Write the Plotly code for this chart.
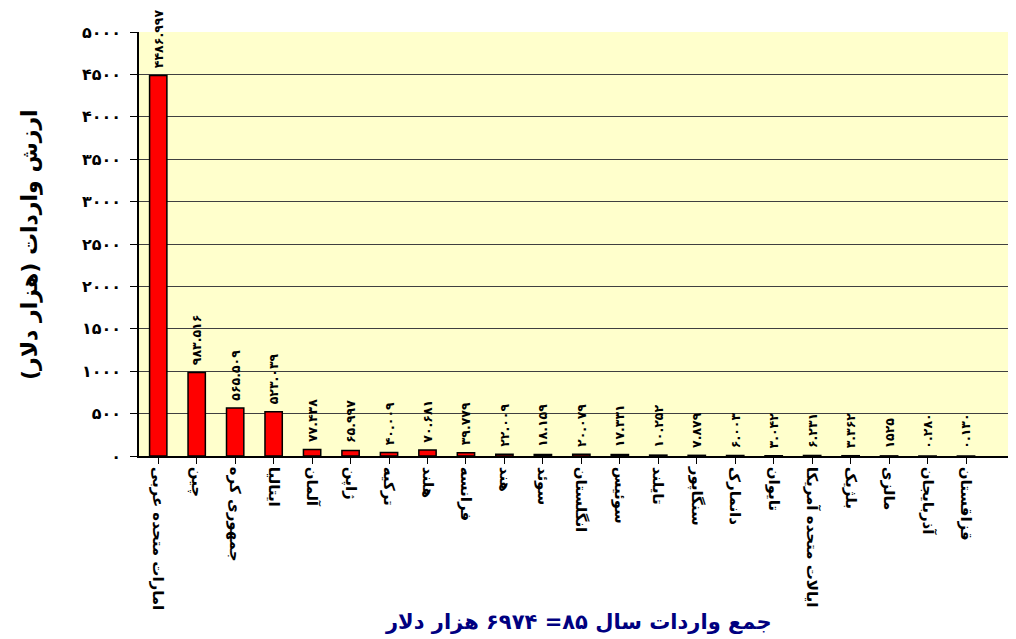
import plotly.graph_objects as go

countries = ["امارات متحده عربی", "چین", "جمهوری کره", "ایتالیا", "آلمان", "ژاپن", "ترکیه",
             "هلند", "فرانسه", "هند", "سوئد", "انگلستان", "سوئیس", "تایلند", "سنگاپور",
             "دانمارک", "تایوان", "ایالات متحده آمریکا", "بلژیک", "مالزی", "آذربایجان", "قزاقستان"]
values = [4486.997, 983.516, 565.509, 523.039, 77.438, 65.997, 40.009, 70.681, 39.779, 22.009,
          18.159, 20.079, 17.331, 10.252, 7.879, 6.003, 3.042, 6.231, 3.362, 1.525, 0.280, 0.130]
value_labels = ["۴۴۸۶.۹۹۷", "۹۸۳.۵۱۶", "۵۶۵.۵۰۹", "۵۲۳.۰۳۹", "۷۷.۴۳۸", "۶۵.۹۹۷", "۴۰.۰۰۹",
                "۷۰.۶۸۱", "۳۹.۷۷۹", "۲۲.۰۰۹", "۱۸.۱۵۹", "۲۰.۰۷۹", "۱۷.۳۳۱", "۱۰.۲۵۲", "۷.۸۷۹",
                "۶.۰۰۳", "۳.۰۴۲", "۶.۲۳۱", "۳.۳۶۲", "۱۵۲۵", "۰.۲۸۰", "۰.۱۳۰"]
y_ticks = [0, 500, 1000, 1500, 2000, 2500, 3000, 3500, 4000, 4500, 5000]
y_tick_labels = ["۰", "۵۰۰", "۱۰۰۰", "۱۵۰۰", "۲۰۰۰", "۲۵۰۰", "۳۰۰۰", "۳۵۰۰", "۴۰۰۰", "۴۵۰۰", "۵۰۰۰"]
y_title = "ارزش واردات (هزار دلار)"
x_title = "جمع واردات سال ۸۵= ۶۹۷۴ هزار دلار"

FONT = "DejaVu Sans"
W, H = 1016, 639
ML, MR, MT, MB = 131, 8, 24, 191

fig = go.Figure(go.Bar(
    x=list(range(len(countries))), y=values, width=0.45,
    marker=dict(color="#FF0000", line=dict(color="black", width=1.5)),
    text=["\u00a0" + s for s in value_labels], textposition="outside", textangle=-90,
    constraintext="none",
    textfont=dict(family=FONT, size=12.5, color="black", weight="bold"),
    cliponaxis=False,
))

plot_w = W - ML - MR
plot_h = H - MT - MB

def px_to_paper_x(px):
    return (px - 8 - ML) / plot_w

def px_to_paper_y(py):
    return (H - MB - (py - 8)) / plot_h

fig.update_layout(
    width=W, height=H,
    margin=dict(l=ML, r=MR, t=MT, b=MB, autoexpand=False),
    paper_bgcolor="white", plot_bgcolor="#FFFFCC",
    showlegend=False,
    font=dict(family=FONT, color="black"),
    xaxis=dict(
        tickmode="array", tickvals=list(range(len(countries))), ticktext=countries,
        tickangle=90, range=[-0.5, 22.3], showgrid=False, ticks="outside",
        tickson="boundaries", ticklen=6, tickcolor="black",
        showline=True, linecolor="black", linewidth=1.5,
        tickfont=dict(family=FONT, size=15, color="black", weight="bold"),
    ),
    yaxis=dict(
        range=[0, 5000], tickmode="array", tickvals=y_ticks, ticktext=y_tick_labels,
        showgrid=True, gridcolor="#404040", gridwidth=1,
        ticks="outside", ticklen=7, tickcolor="black", ticklabelstandoff=6,
        showline=True, linecolor="black", linewidth=1.5, zeroline=False,
        tickfont=dict(family=FONT, size=16, color="black", weight="bold"),
    ),
    annotations=[
        dict(text=y_title, x=px_to_paper_x(30), xref="paper", y=px_to_paper_y(245), yref="paper",
             xanchor="center", yanchor="middle",
             showarrow=False, textangle=-90,
             font=dict(family=FONT, size=22, color="black", weight="bold")),
        dict(text=x_title, x=px_to_paper_x(578), xref="paper", y=px_to_paper_y(622), yref="paper",
             xanchor="center", yanchor="middle",
             showarrow=False,
             font=dict(family=FONT, size=21, color="#000080", weight="bold")),
    ],
)

fig.write_html("out.html")
